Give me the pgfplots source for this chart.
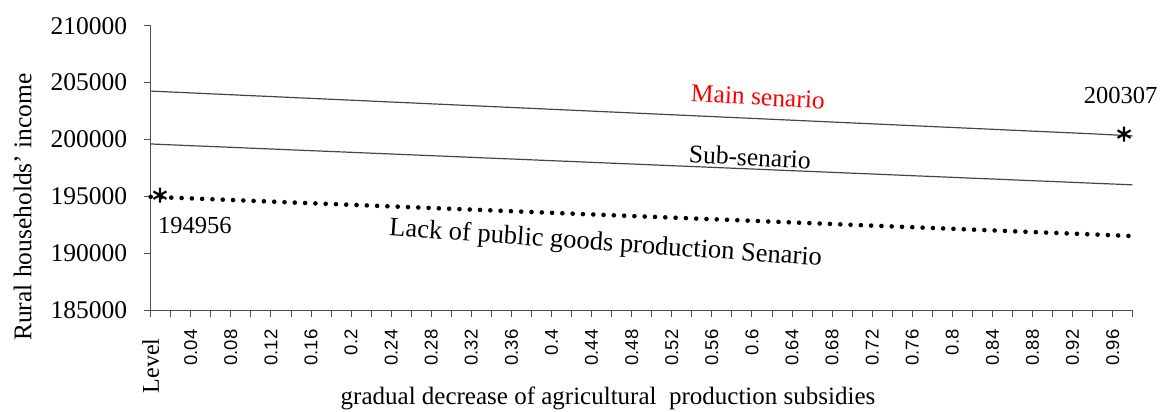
\documentclass[border=0pt]{standalone}
\usepackage{fontspec}
\setmainfont{Liberation Serif}
\setsansfont{Liberation Sans}
\usepackage{pgfplots}
\pgfplotsset{compat=1.18}
\definecolor{axgray}{RGB}{80,80,80}
\definecolor{lngray}{RGB}{70,70,70}
\definecolor{mainred}{RGB}{255,0,0}
\pgfplotstableread{
x main sub lack
0 204250 199600 194956
1 204170 199525 194885
2 204090 199450 194815
3 204010 199380 194745
4 203930 199305 194675
5 203850 199230 194605
6 203770 199160 194535
7 203690 199085 194460
8 203610 199010 194390
9 203530 198940 194320
10 203450 198865 194250
11 203370 198790 194180
12 203290 198720 194110
13 203210 198645 194040
14 203130 198570 193970
15 203050 198500 193900
16 202970 198425 193830
17 202890 198350 193760
18 202810 198280 193690
19 202730 198205 193615
20 202650 198130 193545
21 202570 198060 193475
22 202490 197985 193405
23 202410 197910 193335
24 202330 197840 193265
25 202250 197765 193195
26 202170 197690 193125
27 202090 197620 193055
28 202010 197545 192985
29 201930 197470 192915
30 201850 197400 192845
31 201770 197325 192770
32 201690 197250 192700
33 201610 197180 192630
34 201530 197105 192560
35 201450 197030 192490
36 201370 196960 192420
37 201290 196885 192350
38 201210 196810 192280
39 201130 196740 192210
40 201050 196665 192140
41 200970 196590 192070
42 200890 196520 192000
43 200810 196445 191925
44 200730 196370 191855
45 200650 196300 191785
46 200570 196225 191715
47 200490 196150 191645
48 200400 196080 191575
49 200307 196000 191500
}\datatable
\begin{document}
\begin{tikzpicture}
\useasboundingbox (-150.7pt,-102pt) rectangle (1013.3pt,310pt);
\begin{axis}[
  at={(0pt,0pt)}, anchor=south west,
  scale only axis, width=982pt, height=284.3pt,
  xmin=0, xmax=49, ymin=185000, ymax=210000,
  scaled y ticks=false,
  axis x line*=bottom, axis y line*=left,
  axis line style={color=axgray, line width=0.9pt},
  clip=false,
  tick align=outside,
  major tick length=7pt,
  tick style={color=axgray, line width=0.9pt},
  ytick={185000,190000,195000,200000,205000,210000},
  yticklabels={185000,190000,195000,200000,205000,210000},
  yticklabel style={font=\fontsize{25.5}{25.5}\selectfont, color=black, xshift=-13pt},
  xtick={0,...,49},
  xticklabels={{\rmfamily\fontsize{24}{24}\selectfont Level\kern9pt},,0.04,,0.08,,0.12,,0.16,,0.2,,0.24,,0.28,,0.32,,0.36,,0.4,,0.44,,0.48,,0.52,,0.56,,0.6,,0.64,,0.68,,0.72,,0.76,,0.8,,0.84,,0.88,,0.92,,0.96,},
  xticklabel style={font=\sffamily\fontsize{18.5}{18.5}\selectfont, rotate=90, anchor=east, color=black, xshift=-9pt},
  xlabel={gradual decrease of agricultural\ \ production subsidies},
  xlabel style={font=\fontsize{25}{25}\selectfont, at={(axis description cs:0.4657,-0.312)}, anchor=center},
  ylabel={Rural households’ income},
  ylabel style={font=\fontsize{25.5}{25.5}\selectfont, at={(axis description cs:-0.1305,0.362)}, anchor=center, rotate=0},
]
\addplot[color=lngray, line width=1.2pt] table[x=x, y=main] {\datatable};
\addplot[color=lngray, line width=1.2pt] table[x=x, y=sub] {\datatable};
\addplot[color=black, line width=4.6pt, line cap=round, dash pattern=on 0pt off 10.3pt] table[x=x, y=lack] {\datatable};
\addplot[only marks, mark=asterisk, mark size=7.5pt, line width=2.2pt, color=black] coordinates {(0.46,195100) (48.57,200470)};
\node[font=\fontsize{25.5}{25.5}\selectfont, color=mainred, rotate=-3] at (axis cs:30.3,203730) {Main senario};
\node[font=\fontsize{25.5}{25.5}\selectfont, rotate=-3] at (axis cs:29.9,198450) {Sub-senario};
\node[font=\fontsize{26.5}{26.5}\selectfont, rotate=-4] at (axis cs:22.7,190780) {Lack of public goods production Senario};
\node[font=\fontsize{24.5}{24.5}\selectfont] at (axis cs:48.4,203900) {200307};
\node[font=\fontsize{24.5}{24.5}\selectfont] at (axis cs:2.2,192460) {194956};
\end{axis}
\end{tikzpicture}
\end{document}
